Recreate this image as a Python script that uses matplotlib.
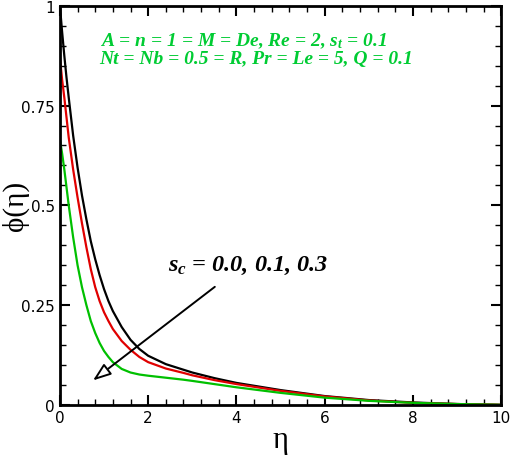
import matplotlib
matplotlib.use('Agg')
import matplotlib.pyplot as plt
from matplotlib.ticker import MultipleLocator, FuncFormatter

plt.rcParams['mathtext.fontset'] = 'custom'
plt.rcParams['mathtext.it'] = 'Liberation Serif:italic:bold'
plt.rcParams['mathtext.rm'] = 'Liberation Serif:bold'

# concentration profiles phi(eta) for s_c = 0.0, 0.1, 0.3
eta = [0, 0.05, 0.1, 0.15, 0.2, 0.3, 0.4, 0.5, 0.6, 0.7, 0.8, 0.9, 1.0, 1.1,
       1.2, 1.4, 1.6, 1.8, 2.0, 2.4, 2.8, 3.0, 3.5, 4.0, 5.0, 6.0, 7.0, 8.0,
       9.0, 10.0]
phi_sc00 = [1.0, 0.935, 0.875, 0.82, 0.77, 0.675, 0.595, 0.525, 0.465, 0.41,
            0.365, 0.325, 0.29, 0.26, 0.235, 0.195, 0.163, 0.14, 0.123, 0.102,
            0.088, 0.081, 0.067, 0.055, 0.037, 0.022, 0.012, 0.006, 0.002, 0.0]
phi_sc01 = [0.87, 0.815, 0.77, 0.72, 0.67, 0.59, 0.52, 0.455, 0.395, 0.34,
            0.295, 0.26, 0.232, 0.21, 0.19, 0.16, 0.138, 0.12, 0.107, 0.091,
            0.08, 0.074, 0.062, 0.052, 0.035, 0.021, 0.011, 0.005, 0.002, 0.0]
phi_sc03 = [0.665, 0.63, 0.59, 0.545, 0.5, 0.42, 0.35, 0.295, 0.25, 0.21,
            0.18, 0.155, 0.135, 0.12, 0.107, 0.09, 0.081, 0.076, 0.073, 0.068,
            0.063, 0.06, 0.052, 0.044, 0.03, 0.018, 0.01, 0.005, 0.002, 0.0]

fig = plt.figure(figsize=(5.12, 4.56), dpi=100)
ax = fig.add_axes([0.117, 0.11, 0.862, 0.875])

ax.plot(eta, phi_sc00, color='black', lw=1.6)
ax.plot(eta, phi_sc01, color='#e00000', lw=1.6)
ax.plot(eta, phi_sc03, color='#00c000', lw=1.6)

ax.set_xlim(0, 10)
ax.set_ylim(0, 1)
ax.xaxis.set_major_locator(MultipleLocator(2))
ax.xaxis.set_minor_locator(MultipleLocator(0.4))
ax.yaxis.set_major_locator(MultipleLocator(0.25))
ax.yaxis.set_minor_locator(MultipleLocator(0.05))
ax.yaxis.set_major_formatter(FuncFormatter(lambda v, p: '%g' % v))
ax.tick_params(which='both', direction='in', top=True, right=True, width=1.5,
               labelsize=11)
ax.tick_params(which='major', length=7)
ax.tick_params(which='minor', length=4, width=1)
for s in ax.spines.values():
    s.set_linewidth(2)

ax.set_xlabel('η', fontsize=22, family='Liberation Serif', labelpad=0)
ax.set_ylabel('ϕ(η)', fontsize=21, family='Liberation Serif')
ax.yaxis.set_label_coords(-0.07, 0.5)

green = '#00cc33'
ax.text(0.09, 0.915, r'A = n = 1 = M = De, Re = 2, s$_t$ = 0.1',
        transform=ax.transAxes, color=green, fontsize=14,
        family='Liberation Serif', style='italic', weight='bold', va='center')
ax.text(0.09, 0.868, 'Nt = Nb = 0.5 = R, Pr = Le = 5, Q = 0.1',
        transform=ax.transAxes, color=green, fontsize=14,
        family='Liberation Serif', style='italic', weight='bold', va='center')

ax.annotate('', xy=(0.7, 0.057), xytext=(3.56, 0.30),
            arrowprops=dict(arrowstyle='-|>,head_length=1.1,head_width=0.4',
                            lw=1.4, color='black', fc='white'))
ax.text(2.45, 0.35, r'$s_c$ = 0.0, 0.1, 0.3', fontsize=17.5,
        family='Liberation Serif', style='italic', weight='bold', va='center')

fig.savefig('out.png', dpi=100)
